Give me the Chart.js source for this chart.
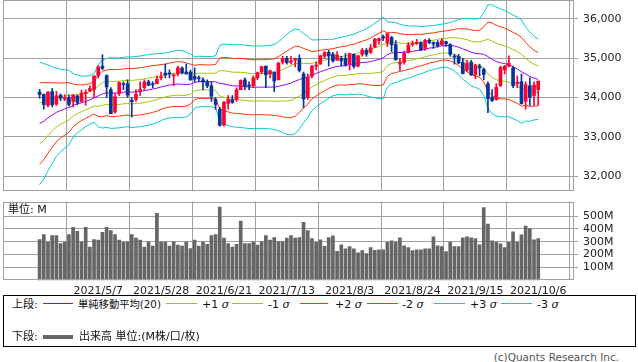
<!DOCTYPE html>
<html><head><meta charset="utf-8">
<script src="https://cdn.jsdelivr.net/npm/chart.js@4.4.1/dist/chart.umd.min.js"></script>
<style>
body{margin:0;background:#fff;width:638px;height:362px;overflow:hidden;position:relative;font-family:'DejaVu Sans','Noto Sans CJK JP',sans-serif;color:#111;}
canvas{position:absolute;left:0;}
#c1{top:0;}
#c2{top:196px;}
.t{position:absolute;font-size:11px;line-height:13px;white-space:nowrap;}
.ln{position:absolute;height:1px;}
.box{position:absolute;left:3px;top:295px;width:633px;height:52px;border:1px solid #000;box-sizing:border-box;}
i{font-family:'DejaVu Serif',serif;}
</style></head>
<body>
<canvas id="c1" width="638" height="191"></canvas>
<canvas id="c2" width="638" height="99"></canvas>
<div class="t" style="left:8px;top:203px;">単位: M</div>
<div class="box"></div>
<div class="t" style="left:12px;top:298px;">上段:</div>
<div class="ln" style="left:43px;width:30px;top:303px;background:#9900ff"></div>
<div class="t" style="left:78px;top:298px;font-size:10.3px;">単純移動平均(20)</div>
<div class="ln" style="left:166px;width:31px;top:303px;background:#99cc00"></div>
<div class="t" style="left:202px;top:298px;">+1 <i>σ</i></div>
<div class="ln" style="left:232px;width:31px;top:303px;background:#99cc00"></div>
<div class="t" style="left:268px;top:298px;">-1 <i>σ</i></div>
<div class="ln" style="left:300px;width:28px;top:303px;background:#ff3300"></div>
<div class="t" style="left:335px;top:298px;">+2 <i>σ</i></div>
<div class="ln" style="left:367px;width:31px;top:303px;background:#ff3300"></div>
<div class="t" style="left:402px;top:298px;">-2 <i>σ</i></div>
<div class="ln" style="left:434px;width:31px;top:303px;background:#00cccc"></div>
<div class="t" style="left:470px;top:298px;">+3 <i>σ</i></div>
<div class="ln" style="left:501px;width:31px;top:303px;background:#00cccc"></div>
<div class="t" style="left:537px;top:298px;">-3 <i>σ</i></div>
<div class="t" style="left:12px;top:330px;">下段:</div>
<div class="ln" style="left:43px;width:30px;top:335px;height:4px;background:#666"></div>
<div class="t" style="left:79px;top:330px;">出来高 単位:(M株/口/枚)</div>
<div class="t" style="right:19px;top:351px;font-size:10.5px;color:#555;">(c)Quants Research Inc.</div>
<script>
const dates=['2021/4/19','2021/4/20','2021/4/21','2021/4/22','2021/4/23','2021/4/26','2021/4/27','2021/4/28','2021/4/29','2021/4/30',
'2021/5/3','2021/5/4','2021/5/5','2021/5/6','2021/5/7','2021/5/10','2021/5/11','2021/5/12','2021/5/13','2021/5/14',
'2021/5/17','2021/5/18','2021/5/19','2021/5/20','2021/5/21','2021/5/24','2021/5/25','2021/5/26','2021/5/27','2021/5/28',
'2021/6/1','2021/6/2','2021/6/3','2021/6/4','2021/6/7','2021/6/8','2021/6/9','2021/6/10','2021/6/11','2021/6/14',
'2021/6/15','2021/6/16','2021/6/17','2021/6/18','2021/6/21','2021/6/22','2021/6/23','2021/6/24','2021/6/25','2021/6/28',
'2021/6/29','2021/6/30','2021/7/1','2021/7/2','2021/7/6','2021/7/7','2021/7/8','2021/7/9','2021/7/12','2021/7/13',
'2021/7/14','2021/7/15','2021/7/16','2021/7/19','2021/7/20','2021/7/21','2021/7/22','2021/7/23','2021/7/26','2021/7/27',
'2021/7/28','2021/7/29','2021/7/30','2021/8/2','2021/8/3','2021/8/4','2021/8/5','2021/8/6','2021/8/9','2021/8/10',
'2021/8/11','2021/8/12','2021/8/13','2021/8/16','2021/8/17','2021/8/18','2021/8/19','2021/8/20','2021/8/23','2021/8/24',
'2021/8/25','2021/8/26','2021/8/27','2021/8/30','2021/8/31','2021/9/1','2021/9/2','2021/9/3','2021/9/7','2021/9/8',
'2021/9/9','2021/9/10','2021/9/13','2021/9/14','2021/9/15','2021/9/16','2021/9/17','2021/9/20','2021/9/21','2021/9/22',
'2021/9/23','2021/9/24','2021/9/27','2021/9/28','2021/9/29','2021/9/30','2021/10/1','2021/10/4','2021/10/5','2021/10/6'];
const tickDates=['2021/5/7','2021/5/28','2021/6/21','2021/7/13','2021/8/3','2021/8/24','2021/9/15','2021/10/6'];
const priceTicks=[32000,33000,34000,35000,36000];
const volumeTicks=[100,200,300,400,500];

const open=[34140,34080,33800,34150,33830,34060,33960,34000,33900,34040,
33900,34100,34170,34200,34560,34800,34560,34200,33630,34100,
34350,34350,33930,33950,34150,34250,34400,34350,34350,34500,
34620,34620,34550,34600,34750,34650,34650,34540,34500,34450,
34400,34300,33950,33700,33300,33850,33950,33950,34200,34450,
34300,34300,34500,34650,34800,34600,34650,34450,34900,35000,
34900,34950,35000,34600,34000,34550,34800,34850,35050,35150,
35100,34950,35000,35000,34850,35100,34800,35100,35200,35150,
35280,35450,35550,35400,35530,35350,34850,34900,35150,35350,
35370,35400,35250,35460,35400,35400,35350,35420,35350,35050,
35050,34900,34700,34900,34580,34800,34720,34350,34000,33950,
34300,34700,34800,34750,34350,34400,33900,34300,34050,34200];
const high=[34209,34090,34151,34230,34155,34090,34070,34060,34070,34060,
34190,34200,34300,34550,34811,35091,34580,34250,34100,34400,
34400,34450,34000,34200,34400,34450,34440,34400,34550,34650,
34850,34700,34600,34800,34780,34850,34700,34760,34550,34500,
34450,34400,34000,33750,33900,34050,34050,34250,34450,34500,
34400,34550,34650,34800,34800,34700,34650,34900,35050,35050,
35050,35000,35090,34650,34600,34820,34900,35080,35170,35200,
35150,35170,35050,35120,35130,35110,35070,35250,35250,35350,
35510,35520,35590,35631,35560,35450,35000,35180,35400,35440,
35480,35420,35490,35500,35420,35450,35500,35440,35370,35100,
35100,35000,34950,34950,34850,34850,34750,34400,34200,34350,
34800,34820,35060,34800,34550,34600,34400,34500,34400,34420];
const low=[33980,33700,33760,33760,33800,33920,33920,33780,33760,33820,
33880,33800,34150,34000,34500,34710,34000,33580,33600,34050,
34200,34000,33500,33900,34050,34200,34300,34250,34350,34450,
34500,34500,34300,34550,34600,34600,34440,34400,34400,34200,
34250,33900,33700,33270,33270,33700,33850,33900,34200,34200,
34200,34250,34450,34600,34250,34500,34150,34450,34850,34850,
34850,34780,34650,33741,33950,34500,34700,34850,35000,34800,
34900,34950,34800,34800,34700,34750,34780,35050,35050,35120,
35270,35350,35450,35300,35170,34950,34690,34850,35130,35300,
35350,35190,35200,35370,35250,35280,35330,35300,35050,34850,
34860,34600,34650,34560,34480,34550,34450,33613,33900,33930,
34280,34600,34780,34250,34250,33830,33700,33800,33800,33800];
const close=[34077,33821,34137,33816,34043,33982,33985,33820,34060,33875,
34113,34133,34230,34549,34778,34743,34269,33588,34021,34382,
34328,34061,33896,34084,34208,34394,34312,34323,34465,34529,
34575,34600,34577,34756,34630,34600,34447,34466,34480,34394,
34299,34034,33823,33290,33877,33946,33874,34197,34434,34283,
34292,34503,34634,34786,34577,34682,34422,34870,34996,34889,
34933,34987,34688,33962,34512,34798,34823,35062,35144,35059,
34931,35085,34935,34838,35116,34793,35064,35209,35102,35265,
35485,35500,35515,35625,35343,34961,34894,35120,35336,35366,
35406,35213,35456,35400,35361,35313,35444,35369,35100,35031,
34879,34608,34870,34578,34814,34751,34585,33970,33920,34258,
34765,34798,34869,34300,34391,33844,34326,34003,34315,34417];
const sma20=[33341,33395,33481,33551,33622,33667,33708,33746,33800,33836,
33865,33900,33939,33992,34040,34090,34120,34113,34112,34121,
34134,34146,34134,34147,34155,34176,34192,34217,34238,34270,
34293,34317,34334,34344,34337,34330,34339,34383,34406,34406,
34405,34403,34400,34360,34344,34321,34299,34293,34291,34279,
34265,34260,34263,34264,34262,34266,34265,34285,34311,34335,
34367,34415,34458,34492,34523,34566,34613,34657,34692,34731,
34763,34792,34807,34810,34837,34842,34874,34891,34897,34915,
34943,34969,35010,35093,35135,35143,35146,35149,35159,35174,
35198,35204,35230,35258,35271,35297,35316,35324,35324,35312,
35282,35237,35205,35152,35126,35115,35100,35043,34972,34916,
34884,34864,34834,34779,34731,34657,34601,34533,34494,34463];
const sigma=[520,490,450,410,375,350,333,317,271,245,
228,215,207,206,263,290,292,300,298,297,
296,297,300,300,300,300,300,298,292,285,
279,280,282,285,285,275,255,218,215,214,
213,213,222,323,338,345,348,350,352,352,
352,350,350,350,352,355,360,378,400,425,
440,445,420,378,345,300,285,272,262,250,
240,240,243,248,250,256,262,272,285,300,
318,332,345,277,262,255,240,230,222,215,
208,200,195,190,187,185,184,186,196,212,
235,258,270,285,290,300,350,440,462,462,
458,452,442,440,439,439,400,380,355,340];
const volume=[318,357,297,349,349,287,297,357,412,381,
297,412,258,318,313,373,412,388,357,313,
297,297,357,329,313,258,297,266,521,297,
297,266,300,274,266,297,248,313,266,300,
281,349,357,570,329,287,258,281,461,287,
287,297,274,300,349,313,333,300,300,329,
349,329,333,451,388,326,295,315,264,333,
346,226,277,246,262,246,215,231,208,254,
233,238,238,295,308,295,331,269,254,231,
238,238,246,246,338,269,262,223,295,262,
262,331,338,331,326,277,567,438,308,295,
285,254,295,377,295,354,423,403,315,326];

const RED='#ff0033', BLUE='#0a3399', GRID='#a0a0a0';
const X_MIN=-8.735, X_MAX=127.54;
const tickIdx=tickDates.map(d=>dates.indexOf(d));
const candleColors=close.map((c,i)=>c>=open[i]?RED:BLUE);
const band=k=>sma20.map((m,i)=>({x:i,y:m+k*sigma[i]}));
const boxPlugin={id:'box',afterDraw(ch){const a=ch.chartArea,c=ch.ctx;c.save();c.strokeStyle=GRID;c.lineWidth=1;
 c.strokeRect(Math.round(a.left)+0.5,Math.round(a.top)+0.5,Math.round(a.right)-Math.round(a.left)-1,Math.round(a.bottom)-Math.round(a.top)-1);c.restore();}};
const tickFont={family:'DejaVu Sans',size:11};
const lineDs=(data,color,order)=>({type:'line',data,borderColor:color,borderWidth:1,pointRadius:0,tension:0,fill:false,order});
const fitX=h=>s=>{s.height=h;s.paddingLeft=0;s.paddingRight=0;s.paddingTop=0;s.paddingBottom=0;};
const fitY=s=>{s.width=64;s.paddingTop=0;s.paddingBottom=0;s.paddingLeft=0;s.paddingRight=0;};

new Chart(document.getElementById('c1'),{
 type:'bar',
 data:{datasets:[
  {data:dates.map((d,i)=>({x:i,y:[Math.min(open[i],close[i]),Math.max(open[i],close[i])]})),backgroundColor:candleColors,barThickness:3,grouped:false,minBarLength:1,order:1},
  {data:dates.map((d,i)=>({x:i,y:[low[i],high[i]]})),backgroundColor:candleColors,barThickness:1,grouped:false,order:2},
  lineDs(sma20.map((v,i)=>({x:i,y:v})),'#9900ff',3),
  lineDs(band(1),'#99cc00',4),lineDs(band(-1),'#99cc00',4),
  lineDs(band(2),'#ff3300',5),lineDs(band(-2),'#ff3300',5),
  lineDs(band(3),'#00cccc',6),lineDs(band(-3),'#00cccc',6)
 ]},
 options:{animation:false,responsive:false,events:[],
  plugins:{legend:{display:false},tooltip:{enabled:false}},
  layout:{padding:{left:3,top:0,right:0,bottom:0}},
  scales:{
   x:{type:'linear',min:X_MIN,max:X_MAX,offset:false,grid:{color:GRID,drawTicks:false},border:{display:false},ticks:{display:false},
      afterBuildTicks:s=>{s.ticks=tickIdx.map(v=>({value:v}));},afterFit:fitX(0)},
   y:{position:'right',min:31618,max:36484,grid:{color:GRID,tickLength:4},border:{display:false},
      ticks:{color:'#222',font:tickFont,padding:5,callback:v=>v.toLocaleString('en-US')},
      afterBuildTicks:s=>{s.ticks=priceTicks.map(v=>({value:v}));},afterFit:fitY}
  }},
 plugins:[boxPlugin]
});

new Chart(document.getElementById('c2'),{
 type:'bar',
 data:{datasets:[{data:volume.map((v,i)=>({x:i,y:v})),backgroundColor:'#666666',barThickness:3}]},
 options:{animation:false,responsive:false,events:[],
  plugins:{legend:{display:false},tooltip:{enabled:false}},
  layout:{padding:{left:3,top:5.5,right:0,bottom:0}},
  scales:{
   x:{type:'linear',min:X_MIN,max:X_MAX,offset:false,grid:{color:GRID,drawTicks:false},border:{display:false},
      ticks:{color:'#222',font:tickFont,padding:4,autoSkip:false,maxRotation:0,minRotation:0,callback:v=>dates[v]},
      afterBuildTicks:s=>{s.ticks=tickIdx.map(v=>({value:v}));},afterFit:fitX(14.7)},
   y:{position:'right',min:0,max:614,grid:{color:GRID,tickLength:4},border:{display:false},
      ticks:{color:'#222',font:tickFont,padding:5,callback:v=>v+'M'},
      afterBuildTicks:s=>{s.ticks=volumeTicks.map(v=>({value:v}));},afterFit:fitY}
  }},
 plugins:[boxPlugin]
});
</script>
</body></html>
